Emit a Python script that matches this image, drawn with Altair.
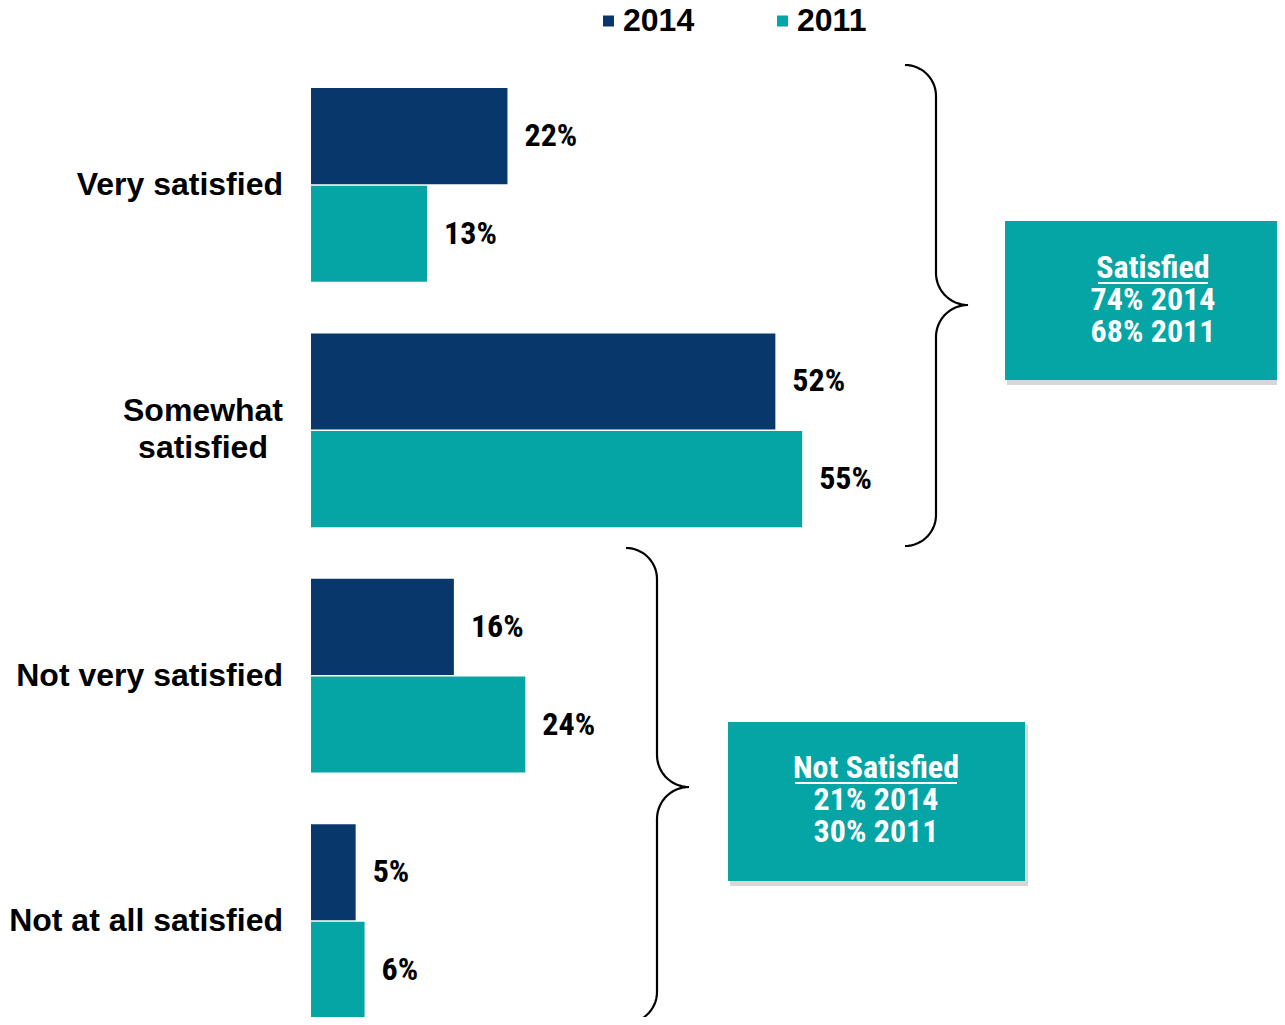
import altair as alt
import pandas as pd
import numpy as np

# ---------------- data ----------------
categories = ["Very satisfied", "Somewhat satisfied", "Not very satisfied", "Not at all satisfied"]
category_labels = ["Very satisfied", "Somewhat\nsatisfied", "Not very satisfied", "Not at all satisfied"]
years = ["2014", "2011"]
values_2014 = [22, 52, 16, 5]
values_2011 = [13, 55, 24, 6]
colors = ["#08386B", "#05A5A5"]
group_titles = ["Satisfied", "Not Satisfied"]

# ---------------- styles / layout ----------------
BOLD = "Liberation Sans, Arial, Helvetica, sans-serif"
NARROW = "Liberation Sans Narrow, Arial Narrow, Roboto Condensed, DejaVu Sans Condensed, sans-serif"
W, H = 1269, 1009

rows = []
for c, a, b in zip(categories, values_2014, values_2011):
    rows.append({"category": c, "year": "2014", "value": a, "label": f"{a}%"})
    rows.append({"category": c, "year": "2011", "value": b, "label": f"{b}%"})
df = pd.DataFrame(rows)

cat_df = pd.DataFrame({"category": categories, "label": category_labels})
cat_df["multi"] = cat_df["label"].str.contains("\n")

x_scale = alt.Scale(domain=[0, 100], range=[303, 1196], nice=False, zero=True)
y_scale = alt.Scale(type="band", domain=categories, range=[80, 1010], paddingInner=0.21, paddingOuter=0)
yoff_scale = alt.Scale(type="band", domain=years, paddingInner=0.015, paddingOuter=0)
color_scale = alt.Scale(domain=years, range=colors)

X = alt.X("value:Q", scale=x_scale, axis=None)
Y = alt.Y("category:N", scale=y_scale, axis=None)
YO = alt.YOffset("year:N", scale=yoff_scale)

bars = alt.Chart(df).mark_bar().encode(
    x=X, y=Y, yOffset=YO,
    color=alt.Color("year:N", scale=color_scale, legend=None),
)

value_text = alt.Chart(df).mark_text(
    align="left", baseline="middle", dx=17, font=NARROW, fontSize=32,
    fontWeight="bold", color="black",
).encode(x=X, y=Y, yOffset=YO, text="label:N")

single_labels = alt.Chart(cat_df).transform_filter("!datum.multi").mark_text(
    align="right", baseline="middle", font=BOLD, fontSize=32, fontWeight="bold", color="black",
).encode(x=alt.value(275), y=Y, text="label:N")

multi_labels = alt.Chart(cat_df).transform_filter("datum.multi").mark_text(
    align="center", baseline="middle", font=BOLD, fontSize=32, fontWeight="bold", color="black",
    lineBreak="\n", lineHeight=37, dy=-19,
).encode(x=alt.value(195), y=Y, text="label:N")

# ---------------- legend (drawn) ----------------
legend_df = pd.DataFrame({"year": years, "sx": [600.5, 774.5], "tx": [615, 789]})
legend_sym = alt.Chart(legend_df).mark_square(size=121, opacity=1).encode(
    x=alt.X("sx:Q", scale=None), y=alt.value(13),
    color=alt.Color("year:N", scale=color_scale, legend=None),
)
legend_txt = alt.Chart(legend_df).mark_text(
    align="left", baseline="middle", font=BOLD, fontSize=32, fontWeight="bold", color="black",
).encode(x=alt.X("tx:Q", scale=None), y=alt.value(13), text="year:N")

# ---------------- braces ----------------
def brace(x0, xm, yt, ytip, yb, rt, n=16):
    r = xm - x0
    pts = []
    th = np.linspace(0, np.pi / 2, n)
    pts += [(x0 + r * np.sin(t), yt + r - r * np.cos(t)) for t in th]
    cx, cy = xm + rt, ytip - rt
    pts += [(cx - rt * np.cos(t), cy + rt * np.sin(t)) for t in th]
    cx, cy = xm + rt, ytip + rt
    pts += [(cx - rt * np.sin(t), cy - rt * np.cos(t)) for t in th]
    cx, cy = x0, yb - r
    pts += [(cx + r * np.cos(t), cy + r * np.sin(t)) for t in th]
    return pts

brace_rows = []
for bid, spec in enumerate([(897, 928, 57, 297, 538, 32), (618, 649, 540, 779, 1015, 32)]):
    for i, (px, py) in enumerate(brace(*spec)):
        brace_rows.append({"brace": bid, "i": i, "px": px, "py": py})
brace_df = pd.DataFrame(brace_rows)

braces = alt.Chart(brace_df).mark_line(color="black", strokeWidth=2.2).encode(
    x=alt.X("px:Q", scale=None), y=alt.Y("py:Q", scale=None),
    detail="brace:N", order="i:Q",
)

# ---------------- summary boxes ----------------
sat = (values_2014[0] + values_2014[1], values_2011[0] + values_2011[1])
notsat = (values_2014[2] + values_2014[3], values_2011[2] + values_2011[3])
box_layout = [
    {"x": 997, "x2": 1277, "y": 213, "y2": 372, "cx": 1145, "cy": 260, "hw": 55},
    {"x": 720, "x2": 1017, "y": 714, "y2": 873, "cx": 868, "cy": 760, "hw": 81},
]
box_texts = [
    f"{group_titles[0]}\n{sat[0]}% {years[0]}\n{sat[1]}% {years[1]}",
    f"{group_titles[1]}\n{notsat[0]}% {years[0]}\n{notsat[1]}% {years[1]}",
]
box_df = pd.DataFrame(box_layout)
box_df["text"] = box_texts
box_df["sx"] = box_df["x"] + 2
box_df["sx2"] = box_df["x2"] + 3
box_df["sy"] = box_df["y"] + 3
box_df["sy2"] = box_df["y2"] + 5
box_df["ul_y"] = box_df["cy"] + 15
box_df["ux"] = box_df["cx"] - box_df["hw"]
box_df["ux2"] = box_df["cx"] + box_df["hw"]

shadow = alt.Chart(box_df).mark_rect(color="#b0b0b0", opacity=0.5).encode(
    x=alt.X("sx:Q", scale=None), x2="sx2:Q", y=alt.Y("sy:Q", scale=None), y2="sy2:Q"
)
boxes = alt.Chart(box_df).mark_rect(color="#05A5A5").encode(
    x=alt.X("x:Q", scale=None), x2="x2:Q", y=alt.Y("y:Q", scale=None), y2="y2:Q"
)
box_text = alt.Chart(box_df).mark_text(
    align="center", baseline="middle", font=NARROW, fontSize=32, fontWeight="bold",
    color="white", lineBreak="\n", lineHeight=32,
).encode(x=alt.X("cx:Q", scale=None), y=alt.Y("cy:Q", scale=None), text="text:N")

underline = alt.Chart(box_df).mark_rule(color="white", strokeWidth=2).encode(
    x=alt.X("ux:Q", scale=None), x2="ux2:Q", y=alt.Y("ul_y:Q", scale=None)
)

chart = alt.layer(
    braces, shadow, boxes, box_text, underline, bars, value_text,
    single_labels, multi_labels, legend_sym, legend_txt,
).resolve_scale(
    x="independent", y="independent"
).properties(
    width=W, height=H, autosize=alt.AutoSizeParams(type="none"), padding=0
).configure_view(stroke=None)

chart.save("out.html", embed_options={"renderer": "svg", "actions": False})
